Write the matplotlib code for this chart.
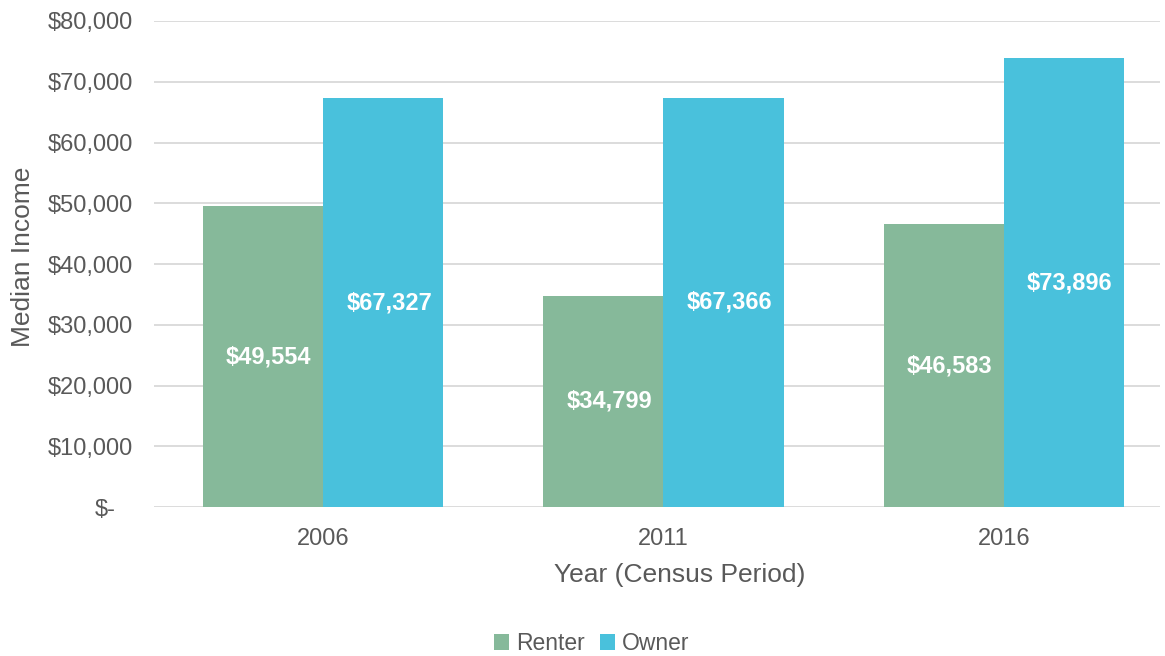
import numpy as np
import matplotlib.pyplot as plt
import matplotlib.transforms as mtrans

plt.rcParams['font.family'] = ['Liberation Sans', 'DejaVu Sans']

years = ['2006', '2011', '2016']
renter = [49554, 34799, 46583]
owner = [67327, 67366, 73896]
yticks = [0, 10000, 20000, 30000, 40000, 50000, 60000, 70000, 80000]

grey = '#595959'
c_rent = '#86B99A'
c_own = '#49C1DC'

fig = plt.figure(figsize=(11.65, 6.56), dpi=100)
ax = fig.add_axes([0.132, 0.227, 0.864, 0.741])

x = np.arange(len(years))
w = 0.353
b1 = ax.bar(x - w/2, renter, w, color=c_rent, label='Renter', zorder=3)
b2 = ax.bar(x + w/2, owner, w, color=c_own, label='Owner', zorder=3)

for bars, vals in [(b1, renter), (b2, owner)]:
    for b, v in zip(bars, vals):
        ax.annotate('${:,}'.format(v), (b.get_x() + b.get_width()/2, v/2),
                    xytext=(6, 0), textcoords='offset pixels',
                    ha='center', va='center', color='white', fontsize=17,
                    fontweight='bold', zorder=4)

ax.set_xlim(-0.497, 2.46)
ax.set_ylim(0, 80000)
ax.set_yticks(yticks)
ax.set_yticklabels(['$-'] + ['${:,}'.format(t) for t in yticks[1:]])
ax.set_xticks(x)
ax.set_xticklabels(years)
ax.yaxis.grid(True, color='#D9D9D9', linewidth=1.3, zorder=0)
for s in ax.spines.values():
    s.set_visible(False)
ax.tick_params(length=0, labelsize=17, colors=grey)
ax.tick_params(axis='y', pad=15)
ax.tick_params(axis='x', pad=15)

ax.set_ylabel('Median Income', fontsize=19, color=grey)
ax.yaxis.set_label_coords(-0.118, 0.514)
ax.set_xlabel('Year (Census Period)', fontsize=19, color=grey)
ax.xaxis.set_label_coords(0.522, -0.115)

fig.legend(loc='center', bbox_to_anchor=(0.508, 0.019), ncol=2, frameon=False,
           fontsize=16.5, labelcolor=grey, handlelength=0.65, handleheight=0.65,
           handletextpad=0.3, columnspacing=0.7)

# "$-" sits further left in the original (accounting format)
fig.canvas.draw()
zero_lab = ax.yaxis.get_major_ticks()[0].label1
zero_lab.set_transform(zero_lab.get_transform() +
                       mtrans.ScaledTranslation(-0.17, 0, fig.dpi_scale_trans))

fig.savefig('out.png', dpi=100)
